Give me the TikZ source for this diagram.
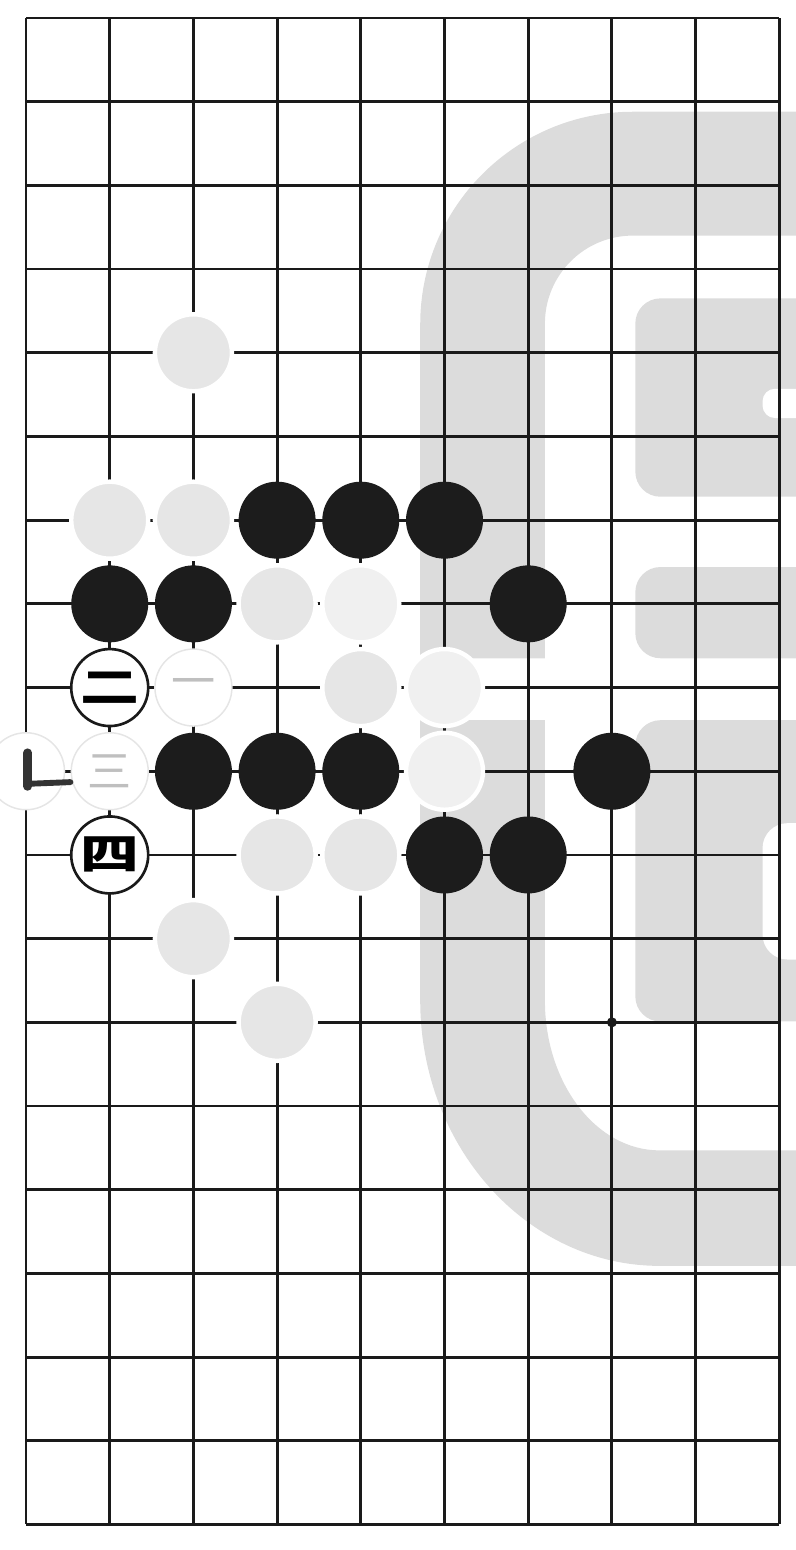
\documentclass[tikz,border=0pt]{standalone}
\usepackage{fontspec}
\newfontfamily\cjkfont{Noto Sans CJK SC}
\usetikzlibrary{backgrounds}
\definecolor{gline}{HTML}{1A1A1A}
\definecolor{gmark}{HTML}{DCDCDC}
\definecolor{wfill}{HTML}{E6E6E6}
\definecolor{wfaintfill}{HTML}{F0F0F0}
\definecolor{bfill}{HTML}{1C1C1C}
\newcommand{\wide}[1]{\scalebox{1.25}[0.9]{#1}}
\tikzset{
  gridline/.style={draw=gline, line width=0.95pt},
  stone/.style={circle, minimum size=0.92cm, inner sep=0pt},
  bstone/.style={stone, fill=bfill},
  wstone/.style={stone, fill=wfill, draw=white, line width=1.5pt},
  wfaint/.style={stone, fill=wfaintfill, draw=white, line width=1.5pt},
  wnum/.style={stone, fill=white, draw=gline, line width=0.9pt,
               font=\cjkfont\bfseries\fontsize{16}{16}\selectfont},
  wpale/.style={stone, fill=white, draw=black!10, line width=0.5pt, text=black!25,
               font=\cjkfont\fontsize{15}{15}\selectfont},
  wmark/.style={fill=gmark},
  smudge/.style={draw=black!80, line cap=round},
}

\begin{document}
\begin{tikzpicture}[x=1cm, y=1cm]
  \useasboundingbox (-0.311,0.215) rectangle (9.2,-18.305);

  % watermark behind the board
  \begin{scope}[on background layer]
    \fill[wmark] (9.6,-1.12) -- (7.25,-1.12) arc[start angle=90, end angle=180, radius=2.54]
      -- (4.71,-7.65) -- (6.2,-7.65) -- (6.2,-3.65)
      arc[start angle=180, end angle=90, radius=1.05] -- (9.6,-2.6) -- cycle;
    \fill[wmark, rounded corners=0.3cm] (7.28,-3.35) rectangle (9.6,-5.72);
    \fill[white, rounded corners=0.15cm] (8.8,-4.43) rectangle (9.6,-4.78);
    \fill[wmark, rounded corners=0.3cm] (7.28,-6.56) rectangle (9.6,-7.65);
    \fill[wmark] (4.71,-8.39) -- (4.71,-11.74)
      arc[start angle=180, end angle=270, x radius=2.86, y radius=3.17]
      -- (9.6,-14.91) -- (9.6,-13.53) -- (7.57,-13.53)
      arc[start angle=270, end angle=180, x radius=1.37, y radius=1.79]
      -- (6.2,-8.39) -- cycle;
    \fill[wmark, rounded corners=0.3cm] (7.28,-8.39) rectangle (9.6,-11.99);
    \fill[white, rounded corners=0.3cm] (8.8,-9.62) rectangle (9.6,-11.25);
  \end{scope}

  % board
  \foreach \r in {0,...,18}
    \draw[gridline] (0,-\r) -- (9,-\r);
  \foreach \c in {0,...,9}
    \draw[gridline] (\c,0) -- (\c,-18);
  \fill[gline] (7,-12) circle (0.06);

  % stones
  \foreach \c/\r in {3/6,4/6,5/6,1/7,2/7,6/7,2/9,3/9,4/9,7/9,5/10,6/10}
    \node[bstone] (b\c-\r) at (\c,-\r) {};
  \foreach \c/\r in {2/4,1/6,2/6,3/7,4/8,3/10,4/10,2/11,3/12}
    \node[wstone] (w\c-\r) at (\c,-\r) {};
  \foreach \c/\r in {4/7,5/8,5/9}
    \node[wfaint] (f\c-\r) at (\c,-\r) {};

  % numbered stones
  \node[wnum] (n2) at (1,-8) {\wide{二}};
  \node[wnum] (n4) at (1,-10) {\wide{四}};
  \node[wpale] (n1) at (2,-8) {一};
  \node[wpale] (n3) at (1,-9) {三};
  \node[wpale] (n0) at (0,-9) {};
  \draw[smudge, line width=3pt] ([shift={(0.02,0.22)}]n0.center) -- ++(0,-0.4);
  \draw[smudge, line width=2pt] ([shift={(0.03,-0.15)}]n0.center) -- ++(0.5,0.02);
\end{tikzpicture}
\end{document}
